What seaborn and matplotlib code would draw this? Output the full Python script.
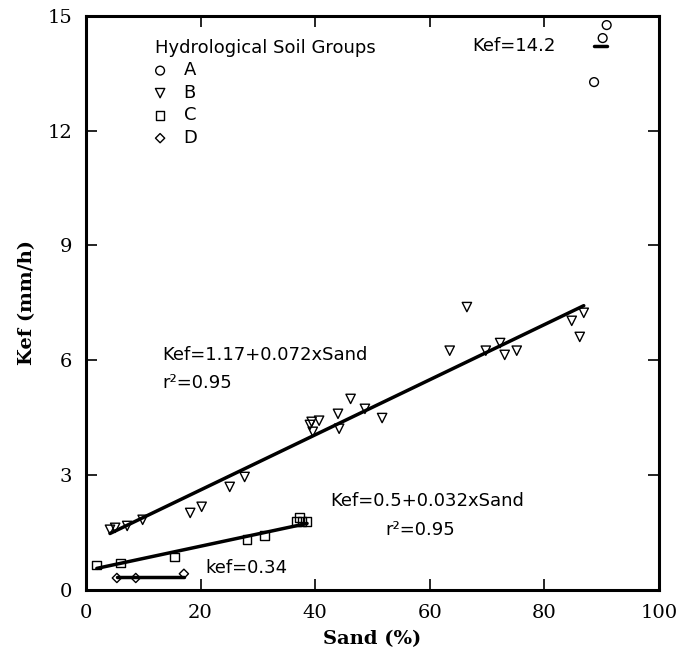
import numpy as np
import pandas as pd
import matplotlib
matplotlib.use("Agg")
import matplotlib.pyplot as plt
import seaborn as sns

# values
sand_a = [88.7, 90.2, 90.9]
kef_a = [13.27, 14.42, 14.76]

sand_b = [4.2, 5.1, 7.2, 9.9, 18.2, 20.2, 25.1, 27.7, 39.1, 39.4, 40.7, 39.6,
          44.0, 44.2, 46.2, 48.7, 51.7, 63.5, 66.5, 69.8, 72.3, 73.1, 75.2,
          84.8, 86.9, 86.2]
kef_b = [1.57, 1.62, 1.67, 1.83, 2.01, 2.17, 2.69, 2.95, 4.31, 4.39, 4.42, 4.13,
         4.60, 4.21, 4.99, 4.73, 4.49, 6.25, 7.39, 6.25, 6.45, 6.14, 6.25,
         7.03, 7.24, 6.61]

sand_c = [1.9, 6.1, 15.5, 28.1, 31.2, 37.3, 37.7, 38.6, 36.8]
kef_c = [0.65, 0.70, 0.86, 1.31, 1.41, 1.90, 1.78, 1.78, 1.78]

sand_d = [5.4, 8.7, 17.1]
kef_d = [0.31, 0.31, 0.42]

groups = ["A", "B", "C", "D"]
markers = {"A": "o", "B": "v", "C": "s", "D": "D"}
sizes = {"A": 40, "B": 45, "C": 40, "D": 22}

# fitted relations
fit_a = 14.2
fit_b = (1.17, 0.072)
fit_c = (0.5, 0.032)
fit_d = 0.34

sns.set_style("ticks")
plt.rcParams["font.family"] = ["DejaVu Sans"]
for key in ["text.color", "axes.labelcolor", "xtick.color", "ytick.color",
            "axes.edgecolor"]:
    plt.rcParams[key] = "black"

fig = plt.figure(figsize=(6.82, 6.62), dpi=100)
ax = fig.add_axes([0.126, 0.109, 0.840, 0.867])

data = {"A": (sand_a, kef_a), "B": (sand_b, kef_b),
        "C": (sand_c, kef_c), "D": (sand_d, kef_d)}

for g in groups:
    x, y = data[g]
    sns.scatterplot(x=x, y=y, marker=markers[g], s=sizes[g], facecolor="none",
                    edgecolor="black", linewidth=1.0, label=g, ax=ax, zorder=3)

# regression lines
xa = np.array([min(sand_a), max(sand_a)])
ax.plot(xa, [fit_a, fit_a], color="black", lw=2.5)
xb = np.array([min(sand_b), max(sand_b)])
sns.lineplot(x=xb, y=fit_b[0] + fit_b[1] * xb, color="black", lw=2.5, ax=ax)
xc = np.array([min(sand_c), max(sand_c)])
sns.lineplot(x=xc, y=fit_c[0] + fit_c[1] * xc, color="black", lw=2.5, ax=ax)
xd = np.array([min(sand_d), max(sand_d)])
ax.plot(xd, [fit_d, fit_d], color="black", lw=2.5)

# annotations
fs = 13
ax.text(82.0, 14.2, "Kef=14.2", ha="right", va="center", fontsize=fs)
ax.text(13.3, 6.14, "Kef=1.17+0.072xSand", ha="left", va="center", fontsize=fs)
ax.text(13.3, 5.41, "r²=0.95", ha="left", va="center", fontsize=fs)
ax.text(42.6, 2.33, "Kef=0.5+0.032xSand", ha="left", va="center", fontsize=fs)
ax.text(52.2, 1.57, "r²=0.95", ha="left", va="center", fontsize=fs)
ax.text(20.9, 0.57, "kef=0.34", ha="left", va="center", fontsize=fs)

ax.set_xlim(0, 100)
ax.set_ylim(0, 15)
ax.set_xticks([0, 20, 40, 60, 80, 100])
ax.set_yticks([0, 3, 6, 9, 12, 15])
ax.tick_params(direction="in", length=8, width=1.2, top=True, right=True,
               pad=10, labelsize=14, colors="black")
for lab in ax.get_xticklabels() + ax.get_yticklabels():
    lab.set_family("DejaVu Serif")
for sp in ax.spines.values():
    sp.set_linewidth(2.2)
    sp.set_color("black")
    sp.set_visible(True)

ax.set_xlabel("Sand (%)", family="DejaVu Serif", fontweight="bold", fontsize=14,
              labelpad=6, color="black")
ax.set_ylabel("Kef (mm/h)", family="DejaVu Serif", fontweight="bold", fontsize=14,
              labelpad=8, color="black")

leg = ax.legend(title="Hydrological Soil Groups", loc="upper left",
                bbox_to_anchor=(0.12, 0.96), frameon=False, fontsize=fs,
                title_fontsize=fs, alignment="left", handlelength=0.6,
                handletextpad=1.0, labelspacing=0.25, borderpad=0,
                borderaxespad=0)
for t in leg.get_texts():
    t.set_color("black")
leg.get_title().set_color("black")

fig.savefig("out.png", dpi=100)
